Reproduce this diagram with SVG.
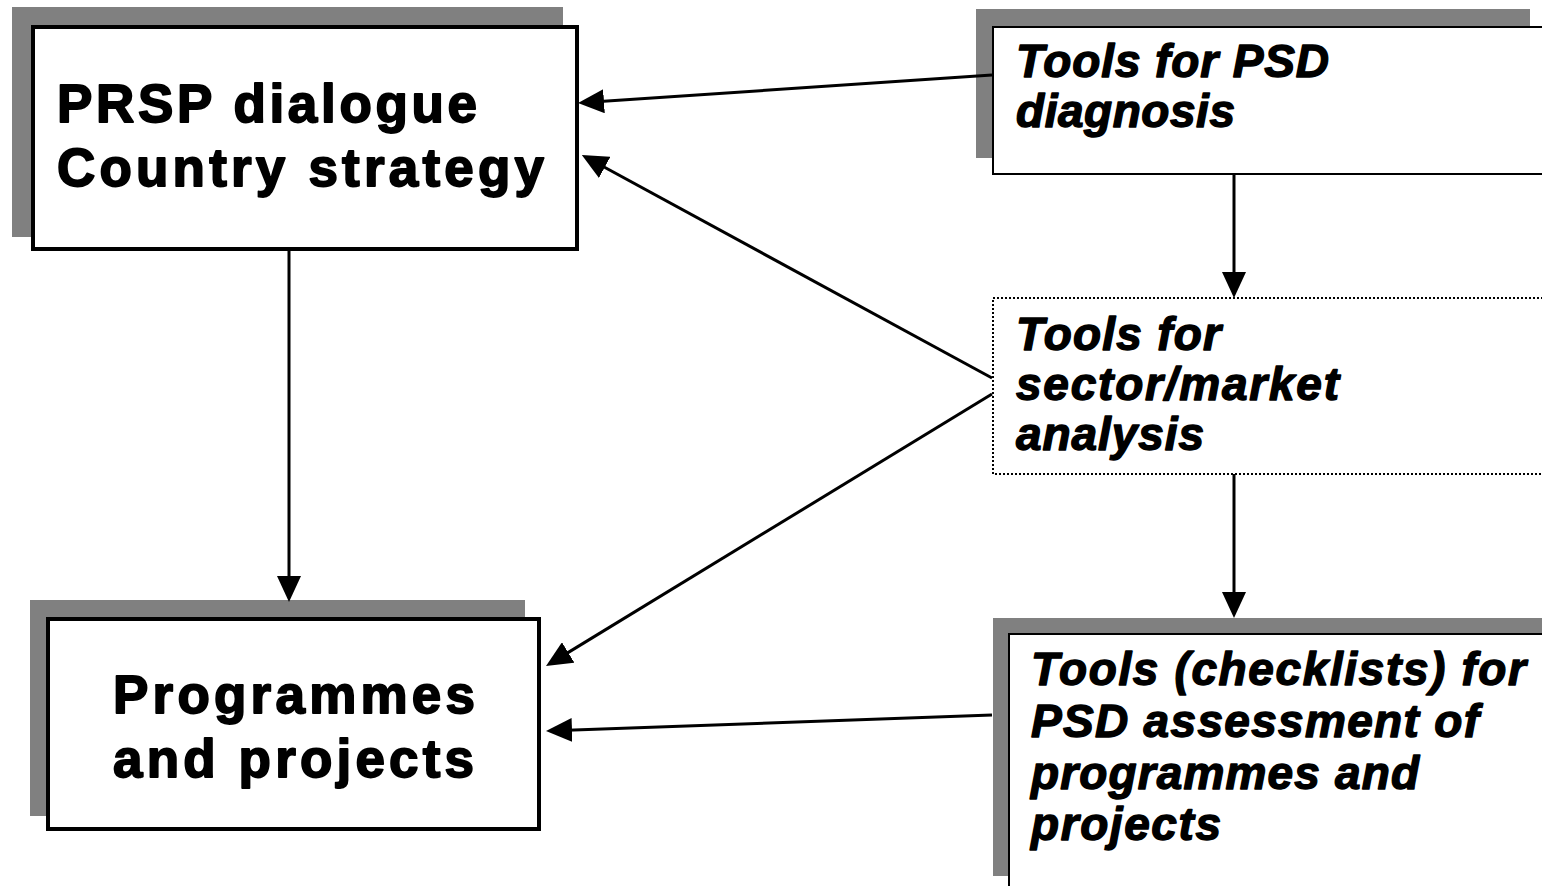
<svg xmlns="http://www.w3.org/2000/svg" width="1542" height="886" viewBox="0 0 1542 886">
<style>
.shadow{fill:#808080;stroke:none}
.thick{fill:#fff;stroke:#000;stroke-width:4}
.thin{fill:#fff;stroke:#000;stroke-width:2}
.dotted{fill:#fff;stroke:#000;stroke-width:2;stroke-dasharray:2,2}
.big{font-family:"Liberation Sans",Arial,sans-serif;font-weight:bold;font-size:53px;fill:#000;stroke:#000;stroke-width:1.8;stroke-linejoin:round}
.ital{font-family:"Liberation Sans",Arial,sans-serif;font-weight:bold;font-style:italic;font-size:46px;fill:#000;stroke:#000;stroke-width:1.4;stroke-linejoin:round}
.conn{stroke:#000;stroke-width:3;fill:none;marker-end:url(#arr)}
</style>
<defs>
<marker id="arr" markerUnits="userSpaceOnUse" viewBox="0 0 26 24" markerWidth="26" markerHeight="24" refX="19" refY="12" orient="auto">
<path d="M0,0 L26,12 L0,24 Z" fill="#000"/>
</marker>
</defs>
<rect width="1542" height="886" fill="#fff"/>
<g id="node-prsp">
<rect class="shadow" x="12" y="7" width="551" height="230"/>
<rect class="thick" x="33" y="27" width="544" height="222"/>
<text class="big" x="57" y="122" textLength="420" lengthAdjust="spacing">PRSP dialogue</text>
<text class="big" x="57" y="186" textLength="487" lengthAdjust="spacing">Country strategy</text>
</g>
<g id="node-programmes">
<rect class="shadow" x="30" y="600" width="495" height="216"/>
<rect class="thick" x="48" y="619" width="491" height="210"/>
<text class="big" x="113" y="713" textLength="362" lengthAdjust="spacing">Programmes</text>
<text class="big" x="113" y="777" textLength="361" lengthAdjust="spacing">and projects</text>
</g>
<g id="node-diagnosis">
<rect class="shadow" x="976" y="9" width="554" height="149"/>
<rect class="thin" x="993" y="27" width="570" height="147"/>
<text class="ital" x="1016" y="77" textLength="313" lengthAdjust="spacing">Tools for PSD</text>
<text class="ital" x="1016" y="127" textLength="219" lengthAdjust="spacing">diagnosis</text>
</g>
<g id="node-sector">
<rect class="dotted" x="993" y="298" width="570" height="176"/>
<text class="ital" x="1016" y="350" textLength="205" lengthAdjust="spacing">Tools for</text>
<text class="ital" x="1016" y="400" textLength="323" lengthAdjust="spacing">sector/market</text>
<text class="ital" x="1016" y="450" textLength="188" lengthAdjust="spacing">analysis</text>
</g>
<g id="node-checklists">
<rect class="shadow" x="993" y="618" width="560" height="258"/>
<rect class="thin" x="1009" y="634" width="560" height="270"/>
<text class="ital" x="1031" y="685" textLength="495" lengthAdjust="spacing">Tools (checklists) for</text>
<text class="ital" x="1031" y="737" textLength="448" lengthAdjust="spacing">PSD assessment of</text>
<text class="ital" x="1031" y="789" textLength="388" lengthAdjust="spacing">programmes and</text>
<text class="ital" x="1031" y="840" textLength="190" lengthAdjust="spacing">projects</text>
</g>
<g id="connectors">
<line class="conn" x1="992" y1="75" x2="585" y2="102.5"/>
<line class="conn" x1="992" y1="378" x2="588" y2="158.3"/>
<line class="conn" x1="992" y1="394" x2="552" y2="662.4"/>
<line class="conn" x1="992" y1="715" x2="553" y2="730.7"/>
<line class="conn" x1="289" y1="251" x2="289" y2="595"/>
<line class="conn" x1="1234" y1="174" x2="1234" y2="291"/>
<line class="conn" x1="1234" y1="474" x2="1234" y2="611"/>
</g>
</svg>
